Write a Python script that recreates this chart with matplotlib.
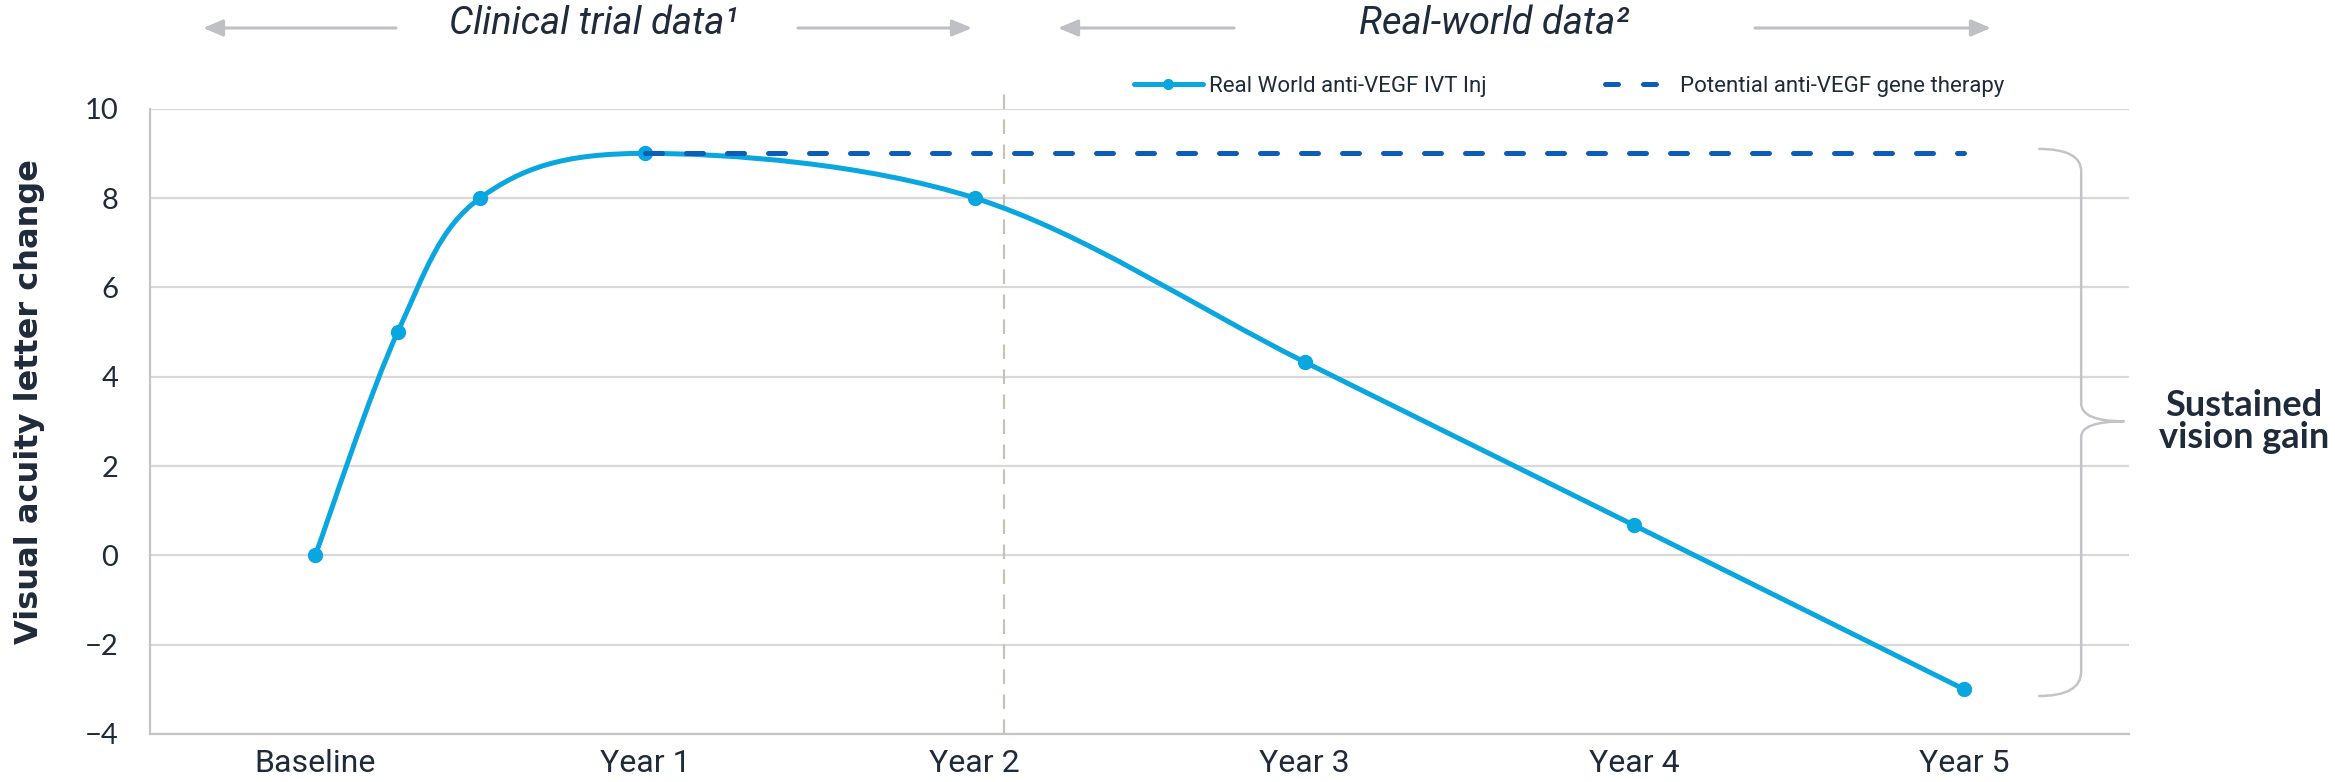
import matplotlib
matplotlib.use("Agg")
import matplotlib.pyplot as plt
from matplotlib.path import Path
from matplotlib.patches import PathPatch, FancyArrowPatch
from matplotlib.lines import Line2D
import numpy as np

# ---------------- data ----------------
categories = ['Baseline', 'Year 1', 'Year 2', 'Year 3', 'Year 4', 'Year 5']
cat_pos = [0, 1, 2, 3, 4, 5]
real_x = [0, 0.25, 0.5, 1, 2, 3, 4, 5]
real_y = [0, 5, 8, 9, 8, 4.33, 0.67, -3]
gene_x = [1, 5]
gene_y = [9, 9]
yticks = [-4, -2, 0, 2, 4, 6, 8, 10]
era_split = 2.09
brace_top, brace_tip, brace_bottom = 9.1, 3.0, -3.15
series_labels = ['Real World anti-VEGF IVT Inj', 'Potential anti-VEGF gene therapy']
era_labels = ['Clinical trial data\u00b9', 'Real-world data\u00b2']
ylabel = 'Visual acuity letter change'
annot = 'Sustained\nvision gain'

# ---------------- style ----------------
LIGHT = '#0AA6E0'
DARK = '#0B5DB8'
NAVY = '#1F2B3A'
GRID = '#D9D9D9'
ARROW = '#BEC0C4'
W, H = 2335, 782

fig = plt.figure(figsize=(W / 100, H / 100), dpi=100)
ax = fig.add_axes([150.4 / W, 1 - 734 / H, (2129 - 150.4) / W, (734 - 108.7) / H])

ax.set_xlim(-0.5, 5.5)
ax.set_ylim(-4, 10)
ax.set_yticks(yticks)
ax.set_yticklabels([str(v).replace('-', '\u2212') for v in yticks])
ax.set_xticks(cat_pos)
ax.set_xticklabels(categories)
ax.tick_params(axis='both', length=0, labelcolor=NAVY)
ax.tick_params(axis='y', pad=23, labelsize=21)
ax.tick_params(axis='x', pad=11, labelsize=23)
for lab in ax.get_xticklabels():
    lab.set_fontfamily('Roboto')
for lab in ax.get_yticklabels():
    lab.set_fontfamily('Lato')
ax.grid(axis='y', color=GRID, lw=1.6)
ax.set_axisbelow(True)
for s in ['top', 'right']:
    ax.spines[s].set_visible(False)
for s in ['left', 'bottom']:
    ax.spines[s].set_color('#C4C4C4')
    ax.spines[s].set_linewidth(1.6)

# smooth (Excel-like Catmull-Rom Bezier) line through real-world points
pts = np.column_stack([real_x, real_y]).astype(float)
n = len(pts)
verts = [tuple(pts[0])]
codes = [Path.MOVETO]
for i in range(n - 1):
    p0 = pts[i - 1] if i > 0 else pts[i]
    p1 = pts[i]
    p2 = pts[i + 1]
    p3 = pts[i + 2] if i + 2 < n else pts[i + 1]
    c1 = p1 + (p2 - p0) / 6.0
    c2 = p2 - (p3 - p1) / 6.0
    verts += [tuple(c1), tuple(c2), tuple(p2)]
    codes += [Path.CURVE4] * 3
ax.add_patch(PathPatch(Path(verts, codes), fill=False, edgecolor=LIGHT, lw=3.6,
                       capstyle='round', joinstyle='round', zorder=3))
ax.plot(real_x, real_y, ls='none', marker='o', ms=10, color=LIGHT, zorder=4)

# gene therapy dashed line
ax.plot(gene_x, gene_y, color=DARK, lw=3.6, dashes=(3.4, 4.8),
        dash_capstyle='round', zorder=5)

# vertical era separator
ax.plot([era_split, era_split], [-4, 10.44], color='#C8C1B3', lw=1.5,
        dashes=(7, 5), clip_on=False, zorder=2)

# legend
handles = [Line2D([], [], color=LIGHT, lw=3.6, marker='o', ms=7, solid_capstyle='round'),
           Line2D([], [], color=DARK, lw=3.6, dashes=(2.6, 5.0), dash_capstyle='round')]
leg = ax.legend(handles, series_labels, loc='center left', bbox_to_anchor=(0.497, 1.036),
                ncol=2, frameon=False, handlelength=3.1, borderpad=0, borderaxespad=0,
                columnspacing=5.3, handletextpad=0.3,
                prop={'family': 'Roboto', 'size': 16})
for t in leg.get_texts():
    t.set_color(NAVY)

# brace
xa, xb, xc = 5.225, 5.355, 5.486
bv = [(xa, brace_top), (xb, brace_top), (xb, brace_top - 0.5),
      (xb, brace_tip + 0.4),
      (xb, brace_tip), (xc, brace_tip),
      (xb, brace_tip), (xb, brace_tip - 0.35),
      (xb, brace_bottom + 0.55),
      (xb, brace_bottom), (xa, brace_bottom)]
bc = [Path.MOVETO, Path.CURVE3, Path.CURVE3, Path.LINETO, Path.CURVE3, Path.CURVE3,
      Path.CURVE3, Path.CURVE3, Path.LINETO, Path.CURVE3, Path.CURVE3]
ax.add_patch(PathPatch(Path(bv, bc), fill=False, edgecolor='#C2C4C8', lw=1.8,
                       clip_on=False, zorder=2))

px_per_unit = (2129 - 150.4) / 6.0
ax.text(5.5 + (2244 - 2129) / px_per_unit, brace_tip, annot, ha='center',
        va='center', fontsize=26, fontweight='bold', color=NAVY, linespacing=0.95,
        clip_on=False, family='Lato')

# y label
fig.text(30 / W, 1 - 402 / H, ylabel, rotation=90, ha='center', va='center',
         fontsize=23, fontweight='bold', color=NAVY, family='DejaVu Sans')

# era titles & arrows
ty = 1 - 24 / H
fig.text(594 / W, ty, era_labels[0], ha='center', va='center', fontsize=27.5,
         style='italic', color=NAVY, family='Roboto')
fig.text(1494 / W, ty, era_labels[1], ha='center', va='center', fontsize=27.5,
         style='italic', color=NAVY, family='Roboto')
ay = H - 28
for tail, head in [(396, 203), (798, 972), (1234, 1058), (1755, 1991)]:
    fig.patches.append(FancyArrowPatch((tail, ay), (head, ay), transform=None,
                                       arrowstyle='-|>,head_length=1.0,head_width=0.42',
                                       mutation_scale=12, color=ARROW, lw=2.2,
                                       shrinkA=0, shrinkB=0))

fig.savefig('out.png', dpi=100)
